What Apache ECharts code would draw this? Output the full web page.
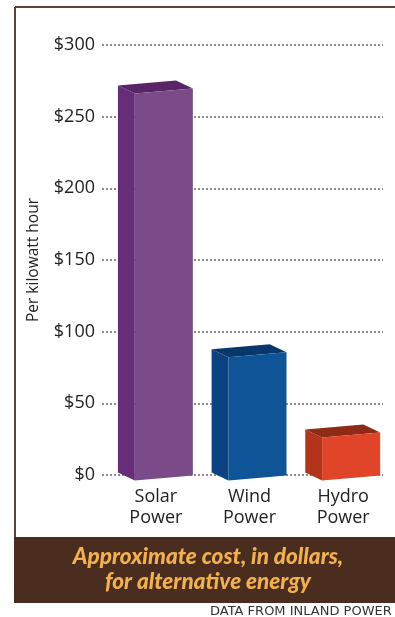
<!DOCTYPE html>
<html><head><meta charset="utf-8">
<script src="https://cdn.jsdelivr.net/npm/echarts@6/dist/echarts.min.js"></script>
<style>html,body{margin:0;padding:0;background:#fff;}#c{width:395px;height:617px;}</style>
</head><body><div id="c"></div>
<script>
const categories = ['Solar\nPower', 'Wind\nPower', 'Hydro\nPower'];
const costValues = [270, 86, 30];
const yTicks = [0, 50, 100, 150, 200, 250, 300];
const titleLines = ['Approximate cost, in dollars,', 'for alternative energy'];
const yAxisName = 'Per kilowatt hour';
const sourceText = 'DATA FROM INLAND POWER';
const palette = [
  {front: '#7a4b88', side: '#662d78', top: '#5a2568'},
  {front: '#0f5496', side: '#0b4282', top: '#09376c'},
  {front: '#e0452a', side: '#b3341d', top: '#8f2a17'}
];

const chart = echarts.init(document.getElementById('c'), null, {renderer: 'canvas'});
const FONT = '"Open Sans", sans-serif';

function renderBox(params, api) {
  const idx = api.value(0);
  const v = api.value(1);
  const c = palette[idx];
  const band = api.size([1, 0])[0];
  const base = api.coord([idx, 0]);
  const top = api.coord([idx, v]);
  const cx = base[0];
  const fl = cx - 0.15 * band, fr = cx + 0.47 * band;
  const dx = 0.18 * band, dy = 8, slant = 5, sh = 3;
  const yb = base[1] + sh, yt = top[1] + sh;
  const fTL = [fl, yt + slant / 2], fTR = [fr, yt - slant / 2];
  const fBL = [fl, yb + slant / 2], fBR = [fr, yb - slant / 2];
  const bTL = [fl - dx, fTL[1] - dy], bTR = [fr - dx, fTR[1] - dy];
  const bBL = [fl - dx, fBL[1] - dy];
  return {
    type: 'group',
    children: [
      {type: 'polygon', shape: {points: [bTL, fTL, fBL, bBL]}, style: {fill: c.side}},
      {type: 'polygon', shape: {points: [bTL, bTR, fTR, fTL]}, style: {fill: c.top}},
      {type: 'polygon', shape: {points: [fTL, fTR, fBR, fBL]}, style: {fill: c.front}}
    ]
  };
}

chart.setOption({
  animation: false,
  backgroundColor: '#ffffff',
  grid: {left: 102, right: 12, top: 45, bottom: 142},
  xAxis: {
    type: 'category', data: categories,
    axisLine: {show: false}, axisTick: {show: false},
    axisLabel: {fontFamily: FONT, fontSize: 18, lineHeight: 21, color: '#222', margin: 11, padding: [0, 0, 0, 14]}
  },
  yAxis: {
    type: 'value', min: yTicks[0], max: yTicks[yTicks.length - 1], interval: 50,
    name: yAxisName, nameLocation: 'middle', nameGap: 60, nameRotate: 90,
    nameTextStyle: {fontFamily: FONT, fontSize: 15.5, color: '#222'},
    axisLine: {show: false}, axisTick: {show: false},
    axisLabel: {fontFamily: FONT, fontSize: 18, color: '#222', margin: 7, formatter: v => '$' + v},
    splitLine: {lineStyle: {type: [2, 2], color: '#666', width: 1.5}}
  },
  series: [{
    type: 'custom',
    renderItem: renderBox,
    data: costValues.map((v, i) => [i, v]),
    encode: {x: 0, y: 1},
    z: 5
  }],
  graphic: [
    {type: 'line', shape: {x1: 15, y1: 7, x2: 400, y2: 7}, style: {stroke: '#5d4237', lineWidth: 2}},
    {type: 'line', shape: {x1: 15, y1: 7, x2: 15, y2: 540}, style: {stroke: '#5d4237', lineWidth: 2}},
    {type: 'rect', shape: {x: 14, y: 537, width: 390, height: 66}, style: {fill: '#4a2d1f'}},
    {type: 'text', x: 208, y: 557, style: {text: titleLines[0], fill: '#f3b04e', font: 'italic 900 22.5px Lato, sans-serif', textAlign: 'center', textVerticalAlign: 'middle'}},
    {type: 'text', x: 208, y: 582, style: {text: titleLines[1], fill: '#f3b04e', font: 'italic 900 22.5px Lato, sans-serif', textAlign: 'center', textVerticalAlign: 'middle'}},
    {type: 'text', x: 210, y: 612, style: {text: sourceText, fill: '#333', font: '13px "DejaVu Sans", sans-serif', textAlign: 'left', textVerticalAlign: 'middle'}}
  ]
});
</script></body></html>
